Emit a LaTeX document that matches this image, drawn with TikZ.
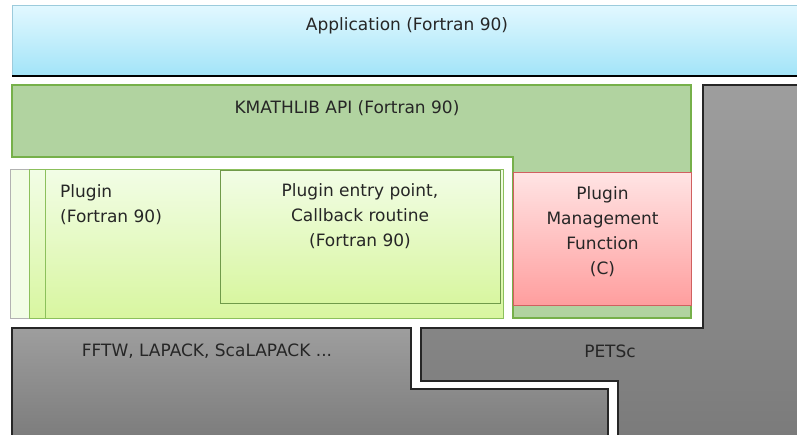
\documentclass[tikz,border=0pt]{standalone}
\usepackage{fontspec}
\setmainfont{DejaVu Sans}
\usepackage{tikz}
\usetikzlibrary{positioning}

\definecolor{appTop}{HTML}{E2F8FF}
\definecolor{appBot}{HTML}{A2E4F8}
\definecolor{appEdge}{HTML}{9CCBDC}
\definecolor{apiFill}{HTML}{B1D3A0}
\definecolor{apiEdge}{HTML}{76B04A}
\definecolor{plugTop}{HTML}{F2FDE6}
\definecolor{plugBot}{HTML}{D8F6A0}
\definecolor{plugEdge}{HTML}{8CC05C}
\definecolor{mgmtTop}{HTML}{FFE4E4}
\definecolor{mgmtBot}{HTML}{FF9E9E}
\definecolor{mgmtEdge}{HTML}{D06060}
\definecolor{libTop}{HTML}{9E9E9E}
\definecolor{libBot}{HTML}{7A7A7A}

\begin{document}
\begin{tikzpicture}[
  x=1pt, y=-1pt,
  lbl/.style={font=\fontsize{17}{25}\selectfont, text=black!85, align=center, inner sep=0pt},
  app/.style={top color=appTop, bottom color=appBot, draw=appEdge, line width=1pt},
  api/.style={fill=apiFill, draw=apiEdge, line width=1.2pt},
  plug/.style={top color=plugTop, bottom color=plugBot, draw=plugEdge, line width=1pt},
  mgmt/.style={top color=mgmtTop, bottom color=mgmtBot, draw=mgmtEdge, line width=1pt},
  lib/.style={top color=libTop, bottom color=libBot, draw=black!85, line width=1.6pt}]
  \useasboundingbox (0,0) rectangle (797,434);
  \clip (0,0) rectangle (797,434);
  % application layer
  \draw[app] (12,5) rectangle (805,76);
  \draw[black, line width=2pt] (12,76) -- (805,76);
  \node[lbl] (app) at (407,26) {Application (Fortran 90)};
  % KMATHLIB API, L-shaped
  \draw[api] (12,85) -- (691,85) -- (691,318) -- (513,318) -- (513,157) -- (12,157) -- cycle;
  \node[lbl] (api) at (347,108) {KMATHLIB API (Fortran 90)};
  \node[mgmt, minimum width=178pt, minimum height=133pt, inner sep=0pt, anchor=north west] (mgmt) at (513,172) {};
  \node[lbl] at (mgmt.center) [yshift=7pt] {Plugin\\Management\\Function\\(C)};
  % plugin stack
  \draw[fill=plugTop, draw=black!30, line width=1pt] (10,169) rectangle (503,318);
  \draw[plug] (29,169) rectangle (503,318);
  \draw[plug] (45,169) rectangle (503,318);
  \draw[plug, draw=plugEdge!80!black] (220,170) rectangle (500,303);
  \node[lbl, align=left, anchor=north west] (plugin) at (60,184) {Plugin\\(Fortran 90)};
  \node[lbl, anchor=north] (entry) at (360,183) {Plugin entry point,\\Callback routine\\(Fortran 90)};
  % numerical libraries
  \draw[lib] (12,328) -- (411,328) -- (411,389) -- (608,389) -- (608,445) -- (12,445) -- cycle;
  \draw[lib] (703,85) -- (810,85) -- (810,445) -- (618,445) -- (618,381) -- (421,381) -- (421,328) -- (703,328) -- cycle;
  \node[lbl] (fftw) at (207,351) {FFTW, LAPACK, ScaLAPACK ...};
  \node[lbl] (petsc) at (610,351) {PETSc};
\end{tikzpicture}
\end{document}
